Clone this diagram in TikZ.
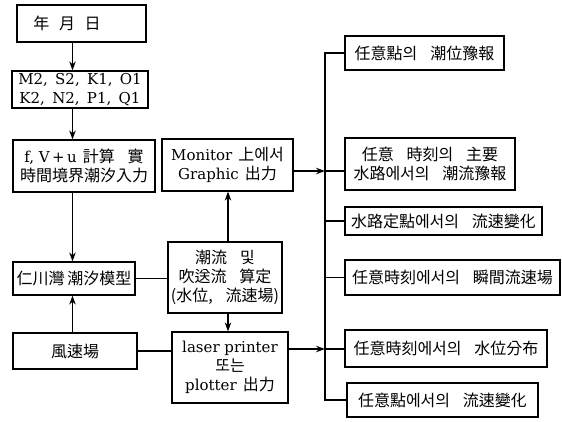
\documentclass[tikz,border=0pt]{standalone}
\usepackage{fontspec}
\setmainfont{DejaVu Serif}
\newfontfamily\cjk{Noto Sans CJK KR}
\usetikzlibrary{arrows.meta}
\newcommand\wsp{\hspace{0.8em}}
\newcommand\lsp{\hspace{0.4em}}
\newcommand\cjkin{\fontsize{16}{19}\selectfont\cjk}
\begin{document}
\begin{tikzpicture}[x=1pt,y=-1pt,
  box/.style={draw, line width=1.2pt, inner sep=0pt, align=center,
    font=\fontsize{15}{19}\selectfont},
  cbox/.style={box, font=\cjkin},
  conn/.style={line width=1.2pt},
  arr/.style={conn, -{Stealth[length=9pt,width=6.5pt]}}]
\useasboundingbox (0,0) rectangle (562,421);
% left column
\node[cbox, minimum width=129pt, minimum height=37pt] (ymd) at (81.5,23.5) {\hspace*{-29pt}年\hspace{0.6em}月\hspace{0.6em}日};
\node[box, minimum width=136pt, minimum height=37pt] (m2) at (80,89.5) {M2, \,S2, \,K1, \,O1\\K2, \,N2, \,P1, \,Q1};
\node[box, minimum width=142pt, minimum height=52pt] (fv) at (84,166) {\hfill f, V\,+\,u\lsp{\cjkin 計算\wsp 實}\\{\cjkin 時間境界潮汐入力}};
\node[cbox, minimum width=122pt, minimum height=33pt] (inch) at (74,278.5) {仁川灣\,潮汐模型};
\node[cbox, minimum width=124pt, minimum height=36pt] (wind) at (75,351) {風速場};
% middle column
\node[box, minimum width=131pt, minimum height=52pt] (mon) at (227.5,165) {Monitor\lsp{\cjkin 上에서}\\Graphic\lsp{\cjkin 出力}};
\node[cbox, minimum width=114pt, minimum height=71pt] (calc) at (225,277.5) {潮流\wsp 및\\吹送流\wsp 算定\\(水位,\wsp 流速場)};
\node[box, minimum width=116pt, minimum height=71pt] (laser) at (230,367.5) {laser printer\\{\cjkin 또는}\\plotter\lsp{\cjkin 出力}};
% right column
\node[cbox, minimum width=159pt, minimum height=34pt] (o1) at (424.5,53) {任意點의\wsp 潮位豫報};
\node[cbox, minimum width=170pt, minimum height=52pt] (o2) at (430,164) {任意\wsp 時刻의\wsp 主要\\水路에서의\wsp 潮流豫報};
\node[cbox, minimum width=197pt, minimum height=28pt] (o3) at (443.5,221) {水路定點에서의\wsp 流速變化};
\node[cbox, minimum width=215pt, minimum height=35pt] (o4) at (452.5,277.5) {任意時刻에서의\wsp 瞬間流速場};
\node[cbox, minimum width=202pt, minimum height=37pt] (o5) at (446,348.5) {任意時刻에서의\wsp 水位分布};
\node[cbox, minimum width=191pt, minimum height=34pt] (o6) at (442.5,400) {任意點에서의\wsp 流速變化};
% helper coordinates
\coordinate (vx) at (72.5,0);
\coordinate (cx) at (228,0);
\coordinate (bt) at (325,53);
\coordinate (jm) at (325,171);
\coordinate (jl) at (325,349);
% left connectors
\draw[arr] (ymd.south -| vx) -- (m2.north -| vx);
\draw[arr] (m2.south -| vx) -- (fv.north -| vx);
\draw[arr] (fv.south -| vx) -- (inch.north -| vx);
\draw[arr] (wind.north -| vx) -- (inch.south -| vx);
\draw[conn] (inch.east) -- (inch.east -| calc.west);
\draw[conn] (wind.east) -- (wind.east -| laser.west);
\draw[arr] (calc.north -| cx) -- (mon.south -| cx);
\draw[arr] (calc.south -| cx) -- (laser.north -| cx);
% bus
\draw[conn] (o1.west) -- (bt) -- (bt |- o6.west) -- (o6.west);
\draw[arr] (mon.east |- jm) -- (jm);
\draw[conn] (jm) -- (jm -| o2.west);
\draw[conn] (bt |- o3.west) -- (o3.west);
\draw[conn] (bt |- o4.west) -- (o4.west);
\draw[arr] (laser.east |- jl) -- (jl);
\draw[conn] (jl) -- (jl -| o5.west);
\end{tikzpicture}
\end{document}
